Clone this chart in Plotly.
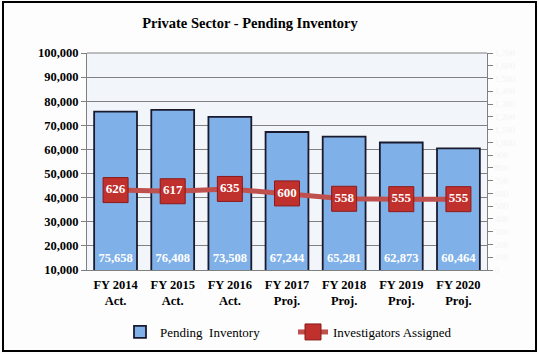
import plotly.graph_objects as go

categories = ["FY 2014<br>Act.", "FY 2015<br>Act.", "FY 2016<br>Act.", "FY 2017<br>Proj.",
              "FY 2018<br>Proj.", "FY 2019<br>Proj.", "FY 2020<br>Proj."]
pending = [75658, 76408, 73508, 67244, 65281, 62873, 60464]
investigators = [626, 617, 635, 600, 558, 555, 555]
left_ticks = list(range(10000, 100001, 10000))
right_ticks = list(range(0, 1701, 100))

FONT = "'Liberation Serif', 'Times New Roman', serif"
L, R, T, B = 87, 52, 53, 84
W, H = 539, 354
pw, ph = W - L - R, H - T - B

def px(x):
    return (x - L) / pw

def py(y):
    return (H - B - y) / ph

fig = go.Figure()
fig.add_trace(go.Bar(
    x=categories, y=pending, name="Pending  Inventory",
    marker=dict(color="#80B0E8", line=dict(color="#1A1A2E", width=1.8)),
    width=0.75, hoverinfo="skip",
))
fig.add_trace(go.Scatter(
    x=categories, y=[14600] * len(categories), mode="text",
    text=[f"<b>{v:,}</b>" for v in pending], showlegend=False,
    textfont=dict(family=FONT, size=12.5, color="white"),
))
fig.add_trace(go.Scatter(
    x=categories, y=investigators, name="Investigators Assigned", yaxis="y2",
    mode="lines+markers+text", text=[f"<b>{v}</b>" for v in investigators],
    textposition="middle center",
    textfont=dict(family=FONT, size=13, color="white"),
    line=dict(color="#C0504D", width=5),
    marker=dict(symbol="square", size=25, color="#C0302C",
                line=dict(color="#8B1A1A", width=1)),
))

fig.update_layout(
    width=W, height=H,
    margin=dict(l=L, r=R, t=T, b=B, autoexpand=False),
    paper_bgcolor="#FDFDFD", plot_bgcolor="#F2F6FB",
    font=dict(family=FONT, size=12, color="black"),
    title=dict(text="<b>Private Sector - Pending Inventory</b>", x=250 / W, xanchor="center",
               y=1 - 23 / H, yanchor="middle", font=dict(family=FONT, size=14.5)),
    bargap=0.25,
    xaxis=dict(range=[-0.5, len(categories) - 0.5],
               showgrid=False, showline=True, linecolor="#808080", linewidth=1,
               tickfont=dict(family=FONT, size=12.5, color="black"), ticks="",
               ticklabelstandoff=3, automargin=False,
               tickprefix="<b>", ticksuffix="</b>"),
    yaxis=dict(range=[10000, 100000], tickvals=left_ticks,
               ticktext=[f"<b>{v:,}</b>" for v in left_ticks],
               showgrid=True, gridcolor="#808080", gridwidth=1,
               showline=True, linecolor="#808080", linewidth=1, mirror=False,
               ticks="outside", ticklen=5, tickcolor="#808080", automargin=False,
               tickfont=dict(family=FONT, size=12.5, color="black"), zeroline=False),
    yaxis2=dict(range=[0, 1700], tickvals=right_ticks, overlaying="y", side="right",
                ticktext=[f"{v:,}" for v in right_ticks], showgrid=False,
                showline=True, linecolor="#808080", linewidth=1, automargin=False,
                ticks="outside", ticklen=5, tickcolor="#808080",
                tickfont=dict(family=FONT, size=9, color="#F4F4F4"), zeroline=False),
    legend=dict(orientation="h", x=px(120), xanchor="left",
                yref="container", y=1 - 332 / H, yanchor="middle",
                font=dict(family=FONT, size=13), bgcolor="rgba(0,0,0,0)",
                itemwidth=30, entrywidth=128, tracegroupgap=0),
    shapes=[
        dict(type="rect", xref="paper", yref="paper", x0=px(3), x1=px(536), y0=py(351), y1=py(2),
             line=dict(color="black", width=2), fillcolor="rgba(0,0,0,0)", layer="above"),
        dict(type="line", xref="paper", yref="paper", x0=0, x1=1, y0=1, y1=1,
             line=dict(color="#808080", width=1)),
    ],
)

fig.write_html("out.html")
